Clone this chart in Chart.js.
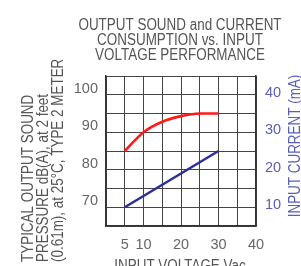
<!DOCTYPE html>
<html>
<head>
<meta charset="utf-8">
<script src="https://cdn.jsdelivr.net/npm/chart.js@4.4.1/dist/chart.umd.min.js"></script>
<style>
  html, body { margin: 0; padding: 0; background: #ffffff; overflow: hidden; }
  #wrap { width: 301px; height: 266px; }
</style>
</head>
<body>
<div id="wrap"><canvas id="c" width="301" height="266"></canvas></div>
<script>
// ---- data ----
const voltage = [5, 10, 15, 20, 25, 30];
const soundDb = [85, 90, 92.8, 94.3, 95, 95];
const currentVoltage = [5, 30];
const currentMa = [10, 25];
const xTickLabels = [5, 10, 20, 30, 40];
const leftTickLabels = [70, 80, 90, 100];
const rightTickLabels = [10, 20, 30, 40];
const titleLines = ['OUTPUT SOUND and CURRENT', 'CONSUMPTION vs. INPUT', 'VOLTAGE PERFORMANCE'];
const leftTitleLines = ['TYPICAL OUTPUT SOUND', 'PRESSURE dB(A), at 2 feet', '(0.61m), at 25°C, TYPE 2 METER'];
const rightTitle = 'INPUT CURRENT (mA)';
const xTitle = 'INPUT VOLTAGE Vac';

const FONT = '"Liberation Sans Narrow", "Liberation Sans", Arial, sans-serif';
const GRAY = '#555555';
const BLUE_TXT = '#5a5eb8';
const CONDENSE = 0.84;

function condensedText(ctx, text, x, y) {
  ctx.save();
  ctx.translate(x, y);
  ctx.scale(CONDENSE, 1);
  ctx.fillText(text, 0, 0);
  ctx.restore();
}

const textPlugin = {
  id: 'texts',
  afterDraw(chart) {
    const ctx = chart.ctx;
    const a = chart.chartArea;
    const cx = (a.left + a.right) / 2 - 1;
    ctx.save();
    ctx.font = '16px ' + FONT;
    ctx.fillStyle = GRAY;
    ctx.textAlign = 'center';
    ctx.textBaseline = 'alphabetic';
    titleLines.forEach((t, i) => condensedText(ctx, t, cx, 29.5 + i * 15));
    // x axis title
    condensedText(ctx, xTitle, cx, 270.5);
    // left title (rotated, reading upward, start-aligned)
    ctx.save();
    ctx.translate(0, 262);
    ctx.rotate(-Math.PI / 2);
    ctx.textAlign = 'left';
    leftTitleLines.forEach((t, i) => condensedText(ctx, t, 0, 32.5 + i * 15));
    ctx.restore();
    // right title
    ctx.save();
    ctx.fillStyle = BLUE_TXT;
    ctx.translate(300, 146);
    ctx.rotate(-Math.PI / 2);
    ctx.textAlign = 'center';
    condensedText(ctx, rightTitle, 0, 0);
    ctx.restore();
    ctx.restore();
  }
};

new Chart(document.getElementById('c'), {
  type: 'line',
  data: {
    datasets: [
      {
        label: 'Sound',
        data: voltage.map((v, i) => ({ x: v, y: soundDb[i] })),
        borderColor: '#ff1a1a',
        borderWidth: 2.6,
        pointRadius: 0,
        cubicInterpolationMode: 'monotone',
        yAxisID: 'y'
      },
      {
        label: 'Current',
        data: currentVoltage.map((v, i) => ({ x: v, y: currentMa[i] })),
        borderColor: '#2b2f96',
        borderWidth: 2.6,
        pointRadius: 0,
        yAxisID: 'y1'
      }
    ]
  },
  options: {
    responsive: false,
    animation: false,
    devicePixelRatio: 1,
    layout: { padding: { top: 76, left: 0, right: 0, bottom: 0 } },
    plugins: { legend: { display: false }, title: { display: false }, tooltip: { enabled: false } },
    scales: {
      x: {
        type: 'linear', min: 0, max: 40,
        ticks: {
          stepSize: 5, autoSkip: false, maxRotation: 0, padding: 10,
          color: '#666', font: { family: FONT, size: 14.5 },
          callback: v => xTickLabels.includes(v) ? String(v) : ''
        },
        grid: { color: '#444', lineWidth: 1, drawTicks: false },
        border: { color: '#333', width: 1.5 },
        afterFit: s => { s.height = 40; }
      },
      y: {
        type: 'linear', position: 'left', min: 65, max: 105,
        ticks: {
          stepSize: 5, autoSkip: false, padding: 8, labelOffset: -6,
          color: '#666', font: { family: FONT, size: 14.5 },
          callback: v => leftTickLabels.includes(v) ? String(v) : ''
        },
        grid: { color: '#444', lineWidth: 1, drawTicks: false },
        border: { color: '#333', width: 1.5 },
        afterFit: s => { s.width = 106; }
      },
      y1: {
        type: 'linear', position: 'right', min: 5, max: 45,
        ticks: {
          stepSize: 5, autoSkip: false, padding: 9, labelOffset: -2,
          color: BLUE_TXT, font: { family: FONT, size: 14.5 },
          callback: v => rightTickLabels.includes(v) ? String(v) : ''
        },
        grid: { display: false, drawTicks: false },
        border: { color: '#333', width: 1.5 },
        afterFit: s => { s.width = 45; }
      }
    }
  },
  plugins: [textPlugin]
});
</script>
</body>
</html>
